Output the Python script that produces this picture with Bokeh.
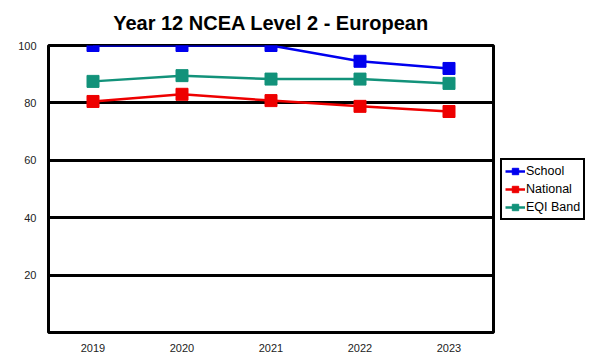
from bokeh.plotting import figure
from bokeh.models import Legend, LegendItem, FixedTicker, ColumnDataSource
from bokeh.embed import file_html
from bokeh.resources import INLINE

years = ["2019", "2020", "2021", "2022", "2023"]
school = [100, 100, 100, 94.5, 92]
national = [80.5, 83, 80.8, 78.8, 77]
eqi_band = [87.5, 89.5, 88.3, 88.3, 86.8]
y_ticks = [20, 40, 60, 80, 100]

FONT = "Liberation Sans"

p = figure(x_range=years, y_range=(0, 100), frame_width=445, frame_height=287,
           output_backend="svg", toolbar_location=None,
           min_border_left=48, min_border_right=99, min_border_top=45, min_border_bottom=28,
           title="Year 12 NCEA Level 2 - European")

p.title.align = "center"
p.title.vertical_align = "top"
p.title.text_font = FONT
p.title.text_font_size = "20px"
p.title.text_font_style = "bold"
p.title.text_color = "black"
p.title.offset = 0
p.title.standoff = 20

p.outline_line_color = "black"
p.outline_line_width = 3
p.background_fill_color = "white"
p.border_fill_color = "white"

p.xgrid.visible = False
p.ygrid.ticker = FixedTicker(ticks=[20, 40, 60, 80])
p.ygrid.grid_line_color = "black"
p.ygrid.grid_line_width = 3
p.ygrid.grid_line_alpha = 1

for ax in (p.xaxis[0], p.yaxis[0]):
    ax.axis_line_color = None
    ax.major_tick_line_color = None
    ax.minor_tick_line_color = None
    ax.major_label_text_font = FONT
    ax.major_label_text_font_size = "11px"
    ax.major_label_text_color = "#222222"
p.yaxis.ticker = FixedTicker(ticks=y_ticks)
p.yaxis.major_label_standoff = 6
p.xaxis.major_label_standoff = 5

series = [("School", school, "#0000ee"), ("National", national, "#ee0000"), ("EQI Band", eqi_band, "#12927a")]
items = []
for name, vals, col in series:
    src = ColumnDataSource(dict(x=years, y=vals))
    l = p.line("x", "y", source=src, line_color=col, line_width=2.5)
    s = p.scatter("x", "y", source=src, marker="square", size=12, fill_color=col, line_color=col)
    items.append(LegendItem(label=name, renderers=[l, s]))

legend = Legend(items=items, location="center_left", margin=7,
                border_line_color="black", border_line_width=2, border_line_alpha=1,
                label_text_font=FONT, label_text_font_size="12.5px", label_text_color="black",
                glyph_width=20, glyph_height=16, label_height=16,
                spacing=2, padding=3, label_standoff=1)
p.add_layout(legend, "right")

open("out.html", "w").write(file_html(p, INLINE))
